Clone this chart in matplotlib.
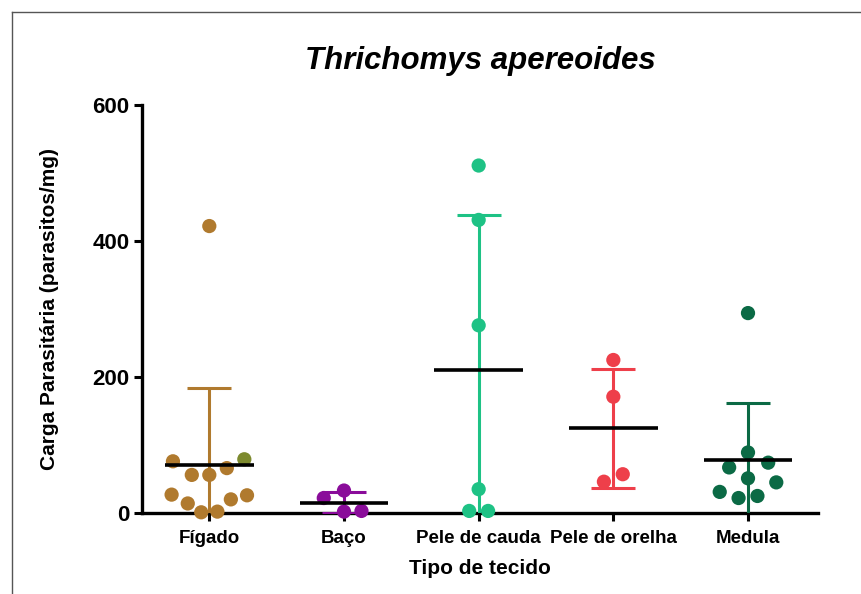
import numpy as np
import matplotlib.pyplot as plt
from matplotlib.lines import Line2D

plt.rcParams['font.family'] = ['Liberation Sans', 'DejaVu Sans']
plt.rcParams['font.weight'] = 'bold'

# Parasite load per tissue (parasites/mg)
categories = ['Fígado', 'Baço', 'Pele de cauda', 'Pele de orelha', 'Medula']
figado = [422, 79, 76, 66, 56, 56, 27, 26, 20, 14, 2, 1]
baco = [33, 22, 2, 3]
pele_cauda = [511, 431, 276, 35, 3, 3]
pele_orelha = [225, 171, 57, 46]
medula = [294, 89, 74, 67, 51, 45, 31, 22, 25]
yticks = [0, 200, 400, 600]

groups = [figado, baco, pele_cauda, pele_orelha, medula]

# horizontal spread of the dots so they don't overlap
spread = [
    [0, 0.26, -0.27, 0.13, -0.13, 0, -0.28, 0.28, 0.16, -0.16, 0.06, -0.06],
    [0, -0.15, 0, 0.13],
    [0, 0, 0, 0, -0.07, 0.07],
    [0, 0, 0.07, -0.07],
    [0, 0, 0.15, -0.14, 0, 0.21, -0.21, -0.07, 0.07],
]
colors = ['#B07A2E', '#8A0C9A', '#1EC285', '#EE3F4A', '#0B6A45']

fig = plt.figure(figsize=(8.62, 5.94), dpi=100)
ax = fig.add_axes([0.1647, 0.1364, 0.7843, 0.6868])

for i, (vals, dx, c) in enumerate(zip(groups, spread, colors)):
    vals = np.array(vals, dtype=float)
    m = vals.mean()
    sd = vals.std(ddof=1)
    pc = [c] * len(vals)
    if i == 0:
        pc[1] = '#7D8A2E'
    ax.scatter(i + np.array(dx), vals, s=105, color=pc, zorder=3,
               clip_on=False, linewidths=0)
    ax.errorbar(i, m, yerr=sd, color=c, lw=2.2, capsize=16, capthick=2.2,
                zorder=4)
    ax.plot([i - 0.33, i + 0.33], [m, m], color='black', lw=2.6,
            zorder=5, solid_capstyle='butt')

ax.set_xlim(-0.5, 4.52)
ax.set_ylim(0, 600)
ax.set_xticks(range(len(categories)))
ax.set_xticklabels(categories, fontsize=13.5, fontweight='bold')
ax.set_yticks(yticks)
ax.set_yticklabels([str(t) for t in yticks], fontsize=16, fontweight='bold')
ax.tick_params(axis='both', width=2.2, length=6, color='black')
ax.tick_params(axis='x', pad=6)
ax.tick_params(axis='y', pad=3)

for side in ['top', 'right']:
    ax.spines[side].set_visible(False)
for side in ['left', 'bottom']:
    ax.spines[side].set_linewidth(2.4)
    ax.spines[side].set_zorder(2)

ax.set_xlabel('Tipo de tecido', fontsize=15, fontweight='bold', labelpad=9)
ax.set_ylabel('Carga Parasitária (parasitos/mg)', fontsize=15,
              fontweight='bold', labelpad=24)
ax.set_title('Thrichomys apereoides', fontsize=22.5, fontweight='bold',
             style='italic', pad=26)

# outer frame lines
fig.add_artist(Line2D([12 / 862, 12 / 862], [0, 1 - 12 / 594],
                      color='#555555', lw=1.0))
fig.add_artist(Line2D([12 / 862, 1], [1 - 12 / 594, 1 - 12 / 594],
                      color='#555555', lw=1.0))

fig.savefig('out.png', dpi=100, facecolor='white')
